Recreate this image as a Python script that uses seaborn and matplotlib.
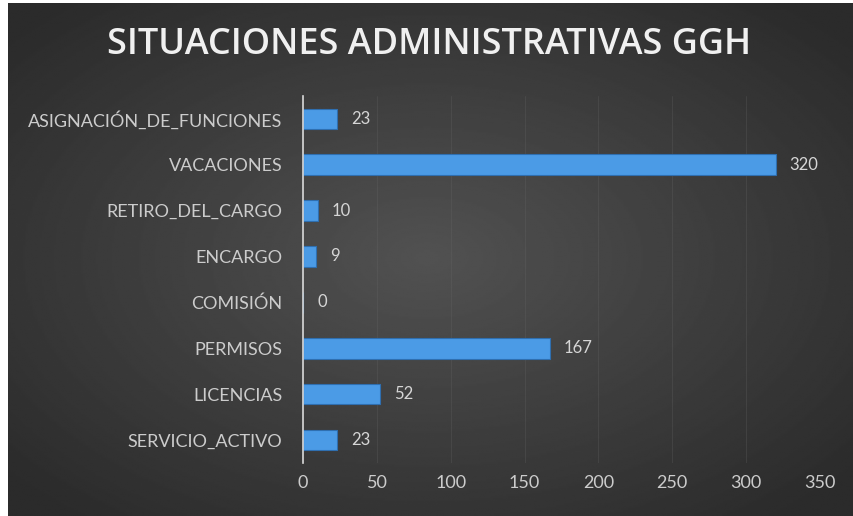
import numpy as np
import pandas as pd
import seaborn as sns
import matplotlib.pyplot as plt
from matplotlib.patches import Rectangle

categorias = ["ASIGNACIÓN_DE_FUNCIONES", "VACACIONES", "RETIRO_DEL_CARGO", "ENCARGO",
              "COMISIÓN", "PERMISOS", "LICENCIAS", "SERVICIO_ACTIVO"]
valores = [23, 320, 10, 9, 0, 167, 52, 23]
ticks_x = [0, 50, 100, 150, 200, 250, 300, 350]

df = pd.DataFrame({"situacion": categorias, "total": valores})

sns.set_theme(style="dark")
plt.rcParams['font.family'] = ['Lato', 'DejaVu Sans']

fig = plt.figure(figsize=(8.54, 5.16), dpi=100, facecolor="#2b2b2b")

# background: dark radial gradient
bg = fig.add_axes([0, 0, 1, 1])
yy, xx = np.mgrid[-1:1:300j, -1:1:500j]
r = np.sqrt(xx ** 2 + yy ** 2)
bg.imshow(0.32 - 0.15 * np.clip(r / 1.3, 0, 1), cmap="gray", vmin=0, vmax=1,
          aspect="auto", extent=[0, 1, 0, 1], interpolation="bilinear")
bg.set_xlim(0, 1)
bg.set_ylim(0, 1)
bg.set_axis_off()
# thin white strips at left and top of the screenshot
fig.patches.append(Rectangle((0, 0), 8 / 854, 1, transform=fig.transFigure,
                             facecolor="white", edgecolor="none", zorder=5))
fig.patches.append(Rectangle((0, 1 - 3 / 516), 1, 3 / 516, transform=fig.transFigure,
                             facecolor="white", edgecolor="none", zorder=5))

ax = fig.add_axes([0.355, 0.103, 0.605, 0.711])
ax.patch.set_alpha(0)
sns.barplot(data=df, x="total", y="situacion", orient="h", color="#4b9be6",
            width=0.45, saturation=1, edgecolor="#2f6fb0", linewidth=0.8, ax=ax)

for i, v in enumerate(valores):
    ax.text(v + 9.5, i, str(v), va="center", ha="left", color="#d6d6d6", fontsize=12)

ax.set_xlim(0, 350)
ax.set_xticks(ticks_x)
ax.set_xlabel("")
ax.set_ylabel("")
ax.tick_params(axis="both", colors="#cccccc", labelsize=13, length=0)
ax.tick_params(axis="y", pad=15)
ax.tick_params(axis="x", pad=9)
ax.grid(axis="x", color="#6a6a6a", linewidth=0.6, alpha=0.3)
ax.grid(axis="y", visible=False)
for s in ["top", "right", "bottom"]:
    ax.spines[s].set_visible(False)
ax.spines["left"].set_color("#d9d9d9")
ax.spines["left"].set_linewidth(1.2)

fig.text(0.502, 0.912, "SITUACIONES ADMINISTRATIVAS GGH",
         ha="center", va="center", color="#f0f0f0", fontsize=26, fontweight="semibold",
         family=["Open Sans", "DejaVu Sans"])

fig.savefig("out.png", dpi=100, facecolor=fig.get_facecolor())
